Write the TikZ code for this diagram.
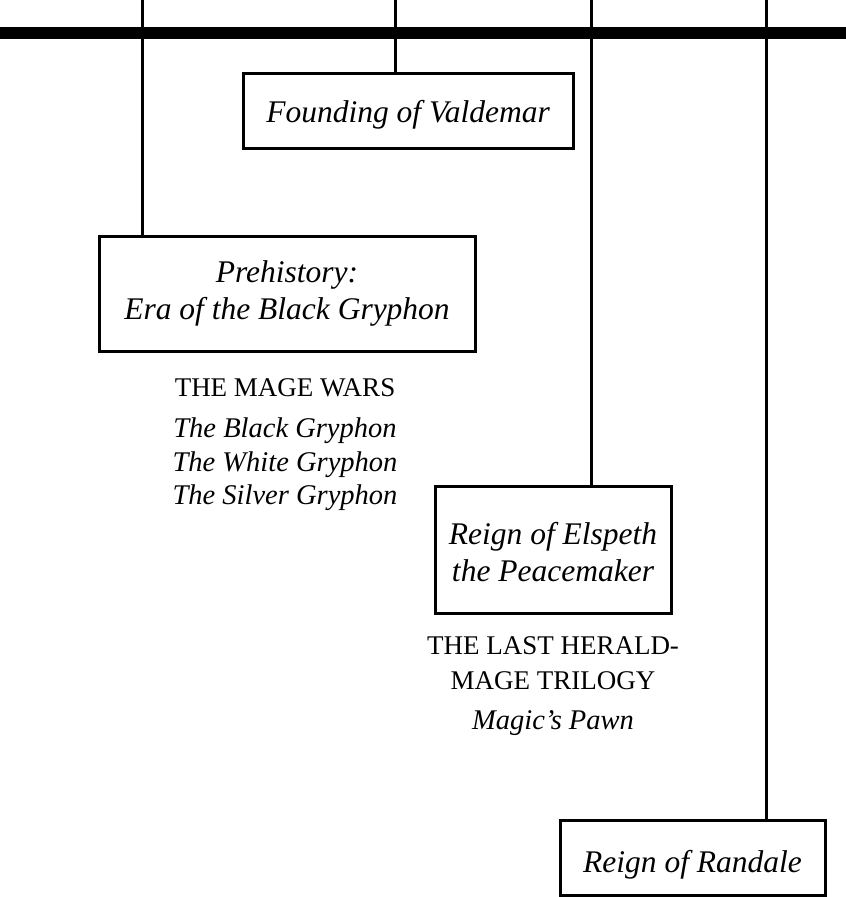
\documentclass[tikz,border=0pt]{standalone}
\usepackage{fontspec}
\setmainfont{Liberation Serif}
\newcommand{\lowr}[2]{\raisebox{-#1}[\height][\depth]{#2}}
\begin{document}
\begin{tikzpicture}[x=1pt,y=-1pt,
  box/.style={draw=black,line width=3pt,rectangle,inner sep=0pt,align=center,font=\fontsize{31.5}{37}\selectfont\itshape},
  conn/.style={line width=3pt},
  caps/.style={align=center,font=\fontsize{27}{35}\selectfont},
  ital/.style={align=center,font=\fontsize{28.5}{34}\selectfont\itshape}]
\useasboundingbox (0,0) rectangle (846,897);
% main bar
\coordinate (barL) at (0,33);
\coordinate (barR) at (846,33);
\draw[line width=12pt] (barL) -- (barR);
% boxes
\node[box,minimum width=330pt,minimum height=75pt] (f) at (408,110.5) {\lowr{4pt}{Founding of Valdemar}};
\node[box,minimum width=376pt,minimum height=115pt] (p) at (287,293.5) {Prehistory:\\Era of the Black Gryphon};
\node[box,minimum width=236pt,minimum height=127pt] (e) at (553,549.5) {\lowr{3pt}{Reign of Elspeth}\\\lowr{3pt}{the Peacemaker}};
\node[box,minimum width=265pt,minimum height=75pt] (r) at (692.5,857.5) {\lowr{7pt}{Reign of Randale}};
% top ends of connectors
\coordinate (t1) at (142,0);
\coordinate (t2) at (395,0);
\coordinate (t3) at (591,0);
\coordinate (t4) at (766,0);
\draw[conn] (t1) -- (t1 |- p.north);
\draw[conn] (t2) -- (t2 |- f.north);
\draw[conn] (t3) -- (t3 |- e.north);
\draw[conn] (t4) -- (t4 |- r.north);
% texts
\node[caps] (mw) at (285,388) {THE MAGE WARS};
\node[ital] (mw1) at (285,431) {The Black Gryphon};
\node[ital] (mw2) at (285,465) {The White Gryphon};
\node[ital] (mw3) at (285,498) {The Silver Gryphon};
\node[caps] (lh1) at (553,646) {THE LAST HERALD-};
\node[caps] (lh2) at (553,681) {MAGE TRILOGY};
\node[ital] (lh3) at (553,723) {Magic's Pawn};
\end{tikzpicture}
\end{document}
